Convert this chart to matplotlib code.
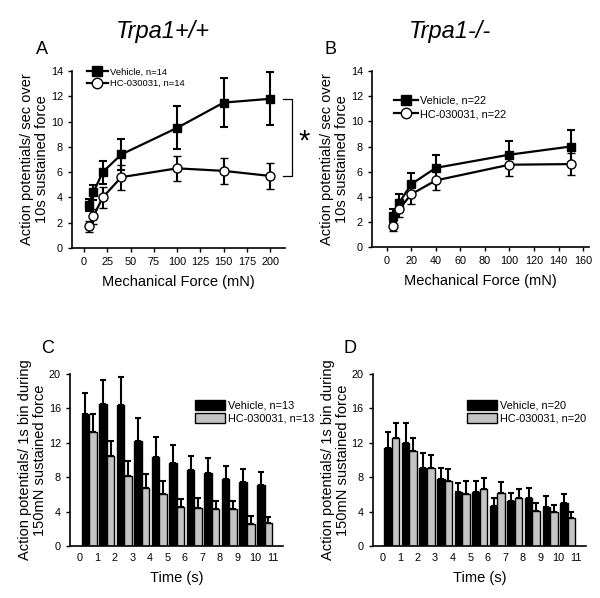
import matplotlib
matplotlib.use("Agg")
import matplotlib.pyplot as plt
import numpy as np
from matplotlib.lines import Line2D
from matplotlib.patches import Patch

plt.rcParams['font.family'] = ['Liberation Sans', 'DejaVu Sans']

# ---- Data ----
force_A = [5, 10, 20, 40, 100, 150, 200]
veh_A = [3.4, 4.4, 6.0, 7.4, 9.5, 11.5, 11.8]
veh_A_err = [0.5, 0.6, 0.9, 1.2, 1.7, 1.95, 2.1]
hc_A = [1.7, 2.5, 4.0, 5.6, 6.3, 6.1, 5.7]
hc_A_err = [0.4, 0.6, 0.8, 1.0, 1.0, 1.0, 1.05]

force_B = [5, 10, 20, 40, 100, 150]
veh_B = [2.5, 3.5, 5.0, 6.3, 7.35, 8.0]
veh_B_err = [0.5, 0.7, 0.9, 1.0, 1.1, 1.3]
hc_B = [1.7, 3.0, 4.2, 5.3, 6.55, 6.6]
hc_B_err = [0.4, 0.6, 0.8, 0.8, 0.9, 0.85]

time_bins = list(range(11))
time_ticks = list(range(12))
veh_C = [15.4, 16.5, 16.4, 12.25, 10.3, 9.7, 8.84, 8.53, 7.75, 7.48, 7.1]
veh_C_err = [2.4, 2.8, 3.3, 2.6, 2.4, 2.0, 1.63, 1.67, 1.6, 1.52, 1.47]
hc_C = [13.2, 10.5, 8.14, 6.7, 6.1, 4.57, 4.38, 4.26, 4.26, 2.6, 2.7]
hc_C_err = [2.2, 1.75, 1.76, 1.7, 1.5, 0.93, 1.22, 0.94, 0.94, 0.9, 0.7]

veh_D = [11.36, 12.0, 9.1, 7.75, 6.24, 6.3, 4.7, 5.27, 5.54, 4.53, 5.0]
veh_D_err = [1.94, 2.3, 1.75, 1.35, 1.12, 1.2, 0.9, 0.93, 1.24, 1.27, 1.1]
hc_D = [12.6, 11.08, 9.1, 7.6, 6.1, 6.6, 6.2, 5.54, 4.07, 4.0, 3.2]
hc_D_err = [1.66, 1.42, 1.5, 1.4, 1.4, 1.35, 1.28, 1.06, 0.89, 0.77, 0.8]

fig = plt.figure(figsize=(6.0, 5.98), dpi=100)

def style(ax):
    for s in ['top', 'right']:
        ax.spines[s].set_visible(False)
    for s in ['left', 'bottom']:
        ax.spines[s].set_linewidth(1.2)
    ax.tick_params(direction='out', width=1.0, length=3, labelsize=7.8)

ylab_top = 'Action potentials/ sec over\n10s sustained force'
ylab_bot = 'Action potentials/ 1s bin during\n150mN sustained force'

def line_panel(ax, x, v, ve, h, he, xlim, xticks, legpos, legfs, n):
    ax.errorbar(x, v, yerr=ve, color='black', lw=1.6, marker='s', ms=6,
                mfc='black', mec='black', capsize=3, capthick=1.5, elinewidth=1.5, zorder=3)
    ax.errorbar(x, h, yerr=he, color='black', lw=1.6, marker='o', ms=6.5,
                mfc='white', mec='black', mew=1.0, capsize=3, capthick=1.5, elinewidth=1.5, zorder=4)
    ax.set_xlim(*xlim)
    ax.set_ylim(0, 14)
    ax.set_yticks(range(0, 15, 2))
    ax.set_xticks(xticks)
    style(ax)
    ax.set_xlabel('Mechanical Force (mN)', fontsize=10.5, labelpad=6)
    ax.set_ylabel(ylab_top, fontsize=10.5, labelpad=1, linespacing=1.1)
    handles = [Line2D([], [], color='black', lw=1.6, marker='s', ms=7, mfc='black'),
               Line2D([], [], color='black', lw=1.6, marker='o', ms=7.5, mfc='white', mew=1.0)]
    ax.legend(handles, ['Vehicle, n=%d' % n, 'HC-030031, n=%d' % n], loc='upper left',
              bbox_to_anchor=legpos, frameon=False, fontsize=legfs, borderpad=0,
              borderaxespad=0, handlelength=2.2, handletextpad=0.2, labelspacing=0.3)

axA = fig.add_axes([0.12, 0.5853, 0.355, 0.296])
line_panel(axA, force_A, veh_A, veh_A_err, hc_A, hc_A_err, (-13, 216),
           [0, 25, 50, 75, 100, 125, 150, 175, 200], (0.07, 1.02), 6.8, 14)
# bracket + asterisk
xb0, xb1 = 214, 224
axA.plot([xb0, xb1, xb1, xb0], [veh_A[-1], veh_A[-1], hc_A[-1], hc_A[-1]],
         color='black', lw=0.9, clip_on=False)
axA.text(237, (veh_A[-1] + hc_A[-1]) / 2 - 0.3, '*', fontsize=21, ha='center', va='center')

axB = fig.add_axes([0.62, 0.587, 0.362, 0.294])
line_panel(axB, force_B, veh_B, veh_B_err, hc_B, hc_B_err, (-12, 165),
           range(0, 161, 20), (0.10, 0.86), 7.8, 22)

def bar_panel(ax, v, ve, h, he, legpos, n):
    x = np.array(time_bins)
    w = 0.43
    ax.bar(x + 0.33, v, width=w, color='black', edgecolor='black', lw=1.0, zorder=2)
    ax.bar(x + 0.76, h, width=w, color='#c4c4c4', edgecolor='black', lw=1.0, zorder=2)
    ax.errorbar(x + 0.33, v, yerr=[np.zeros(len(v)), ve], fmt='none', ecolor='black',
                elinewidth=1.5, capsize=2, capthick=1.5, zorder=1)
    ax.errorbar(x + 0.76, h, yerr=[np.zeros(len(h)), he], fmt='none', ecolor='black',
                elinewidth=1.5, capsize=2, capthick=1.5, zorder=1)
    ax.set_xlim(-0.55, 11.6)
    ax.set_ylim(0, 20)
    ax.set_yticks(range(0, 21, 4))
    ax.set_xticks(time_ticks)
    style(ax)
    ax.tick_params(axis='x', length=0, pad=5)
    ax.set_xlabel('Time (s)', fontsize=10.5, labelpad=6)
    ax.set_ylabel(ylab_bot, fontsize=10.5, labelpad=1, linespacing=1.1)
    handles = [Patch(facecolor='black', edgecolor='black'),
               Patch(facecolor='#c4c4c4', edgecolor='black')]
    ax.legend(handles, ['Vehicle, n=%d' % n, 'HC-030031, n=%d' % n], loc='upper left',
              bbox_to_anchor=legpos, frameon=False, fontsize=7.8, borderpad=0,
              borderaxespad=0, handlelength=2.8, handleheight=1.1,
              handletextpad=0.25, labelspacing=0.2)

axC = fig.add_axes([0.1167, 0.087, 0.355, 0.2876])
bar_panel(axC, veh_C, veh_C_err, hc_C, hc_C_err, (0.585, 0.85), 13)

axD = fig.add_axes([0.621, 0.087, 0.356, 0.2876])
bar_panel(axD, veh_D, veh_D_err, hc_D, hc_D_err, (0.44, 0.85), 20)

# titles and panel labels
fig.text(0.272, 0.947, 'Trpa1+/+', fontsize=17, style='italic', ha='center', va='center')
fig.text(0.75, 0.947, 'Trpa1-/-', fontsize=17, style='italic', ha='center', va='center')
for lbl, xx, yy in [('A', 0.07, 0.918), ('B', 0.55, 0.918), ('C', 0.08, 0.418), ('D', 0.583, 0.418)]:
    fig.text(xx, yy, lbl, fontsize=13, ha='center', va='center')

fig.savefig('out.png', dpi=100)
